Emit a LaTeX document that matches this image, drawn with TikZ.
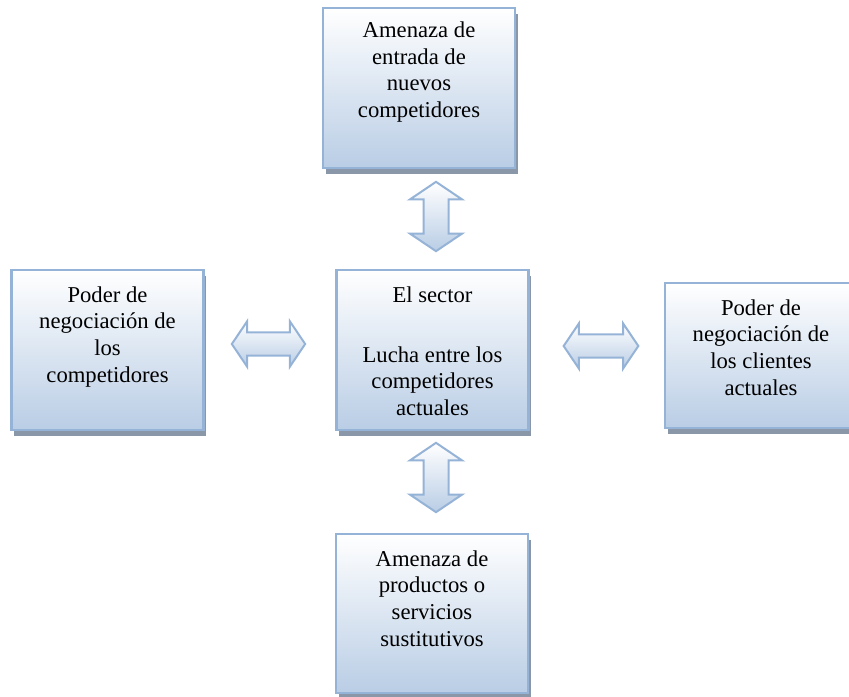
\documentclass[tikz,border=0pt]{standalone}
\usepackage{fontspec}
\setmainfont{Liberation Serif}
\usepackage{tikz}
\usetikzlibrary{shapes.arrows,shadows}
\definecolor{boxline}{RGB}{149,179,215}
\definecolor{boxfill}{RGB}{185,205,229}
\definecolor{boxshadow}{RGB}{138,151,168}
\tikzstyle{forcebox}=[draw=boxline,line width=1.9pt,top color=white,bottom color=boxfill,
  minimum width=144pt,minimum height=120pt,inner sep=0pt,
  drop shadow={shadow xshift=2.2pt,shadow yshift=-4.2pt,fill=boxshadow,opacity=1}]
\tikzstyle{forcetext}=[anchor=north,align=center,inner sep=0pt,
  font=\fontsize{17}{20}\selectfont,yshift=-13pt]
\tikzstyle{twoway}=[double arrow,draw=boxline,line width=1.5pt,top color=white,bottom color=boxfill,
  inner sep=7.5pt,double arrow tip angle=112,double arrow head extend=8pt,
  minimum width=34pt,minimum height=55pt]
\tikzstyle{upright}=[shape border rotate=90,inner sep=8.5pt,minimum width=39pt,minimum height=52pt,
  double arrow head extend=10pt]

\begin{document}
\begin{tikzpicture}[x=0.75pt,y=-0.75pt]
\useasboundingbox (0,0) rectangle (849,696);

% the five forces
\node[forcebox,label={[forcetext,yshift=2pt]north:{Amenaza de\\entrada de\\nuevos\\competidores}}]
  (entrada) at (419,88) {};
\node[forcebox,label={[forcetext]north:{El sector\\[25pt]Lucha entre los\\competidores\\actuales}}]
  (sector) at (432.5,350) {};
\node[forcebox,label={[forcetext]north:{Poder de\\negociación de\\los\\competidores}}]
  (competidores) at (107.5,350) {};
\node[forcebox,minimum height=108.75pt,label={[forcetext]north:{Poder de\\negociación de\\los clientes\\actuales}}]
  (clientes) at (761,355.5) {};
\node[forcebox,minimum height=119.25pt,label={[forcetext]north:{Amenaza de\\productos o\\servicios\\sustitutivos}}]
  (sustitutos) at (432,613.5) {};

% two-way arrows
\node[twoway,upright] (a-entrada) at (436,216.5) {};
\node[twoway,upright] (a-sustitutos) at (436,477.5) {};
\node[twoway] (a-competidores) at (268.5,344) {};
\node[twoway,minimum height=56pt] (a-clientes) at (601,346) {};
\end{tikzpicture}
\end{document}
